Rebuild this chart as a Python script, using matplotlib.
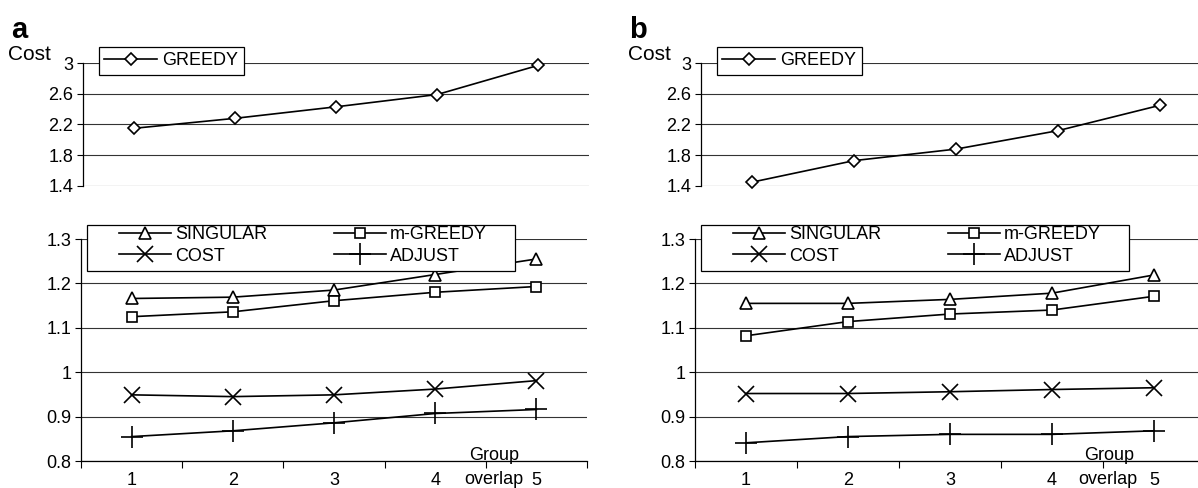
import numpy as np
import matplotlib
matplotlib.use('Agg')
import matplotlib.pyplot as plt
from matplotlib.patches import Rectangle

plt.rcParams['font.family'] = ['Liberation Sans', 'DejaVu Sans']

# group overlap categories
groups = [1, 2, 3, 4, 5]
group_labels = ['1', '2', '3', '4', '5']
top_ticks = [1.4, 1.8, 2.2, 2.6, 3.0]
top_tick_labels = ['1.4', '1.8', '2.2', '2.6', '3']
bot_ticks = [0.8, 0.9, 1.0, 1.1, 1.2, 1.3]
bot_tick_labels = ['0.8', '0.9', '1', '1.1', '1.2', '1.3']

# panel a
greedy_a = [2.15, 2.28, 2.43, 2.59, 2.97]
singular_a = [1.166, 1.169, 1.185, 1.220, 1.255]
mgreedy_a = [1.125, 1.136, 1.161, 1.180, 1.193]
cost_a = [0.949, 0.945, 0.949, 0.962, 0.981]
adjust_a = [0.855, 0.868, 0.886, 0.907, 0.916]

# panel b
greedy_b = [1.45, 1.73, 1.88, 2.12, 2.45]
singular_b = [1.155, 1.155, 1.164, 1.178, 1.219]
mgreedy_b = [1.082, 1.114, 1.131, 1.140, 1.171]
cost_b = [0.952, 0.952, 0.956, 0.961, 0.965]
adjust_b = [0.841, 0.855, 0.860, 0.860, 0.868]

W, H = 1198, 488
fig = plt.figure(figsize=(W / 100, H / 100), dpi=100)


def fbox(x0, x1, ytop, ybot):
    return [x0 / W, 1 - ybot / H, (x1 - x0) / W, (ybot - ytop) / H]


def style(ax, ticks, labels):
    ax.set_xlim(0.5, 5.5)
    for s in ['top', 'right']:
        ax.spines[s].set_visible(False)
    ax.spines['left'].set_linewidth(0.9)
    ax.spines['bottom'].set_linewidth(0.9)
    ax.set_yticks(ticks)
    ax.set_yticklabels(labels)
    ax.yaxis.grid(True, color='#333333', lw=0.8)
    ax.set_axisbelow(True)
    ax.tick_params(axis='y', direction='out', length=4, width=0.8, pad=3,
                   labelsize=13)


kw = dict(color='k', lw=1.2, mfc='white', mec='k', mew=1.2, clip_on=False,
          zorder=3)


def panel(xb0, xt0, cw, greedy, singular, mgreedy, cost, adjust):
    ax_t = fig.add_axes(fbox(xt0, xt0 + 5 * cw, 63, 186))
    ax_b = fig.add_axes(fbox(xb0, xb0 + 5 * cw, 239, 461))
    style(ax_t, top_ticks, top_tick_labels)
    style(ax_b, bot_ticks, bot_tick_labels)
    ax_t.set_ylim(1.4, 3.0)
    ax_b.set_ylim(0.8, 1.3)
    ax_t.spines['bottom'].set_visible(False)
    ax_t.set_xticks([])

    ax_b.set_xticks(groups)
    ax_b.set_xticklabels(group_labels)
    ax_b.set_xticks(np.arange(0.5, len(groups) + 1, 1), minor=True)
    ax_b.tick_params(axis='x', which='major', length=0, pad=8, labelsize=13)
    ax_b.tick_params(axis='x', which='minor', direction='out', length=5,
                     width=0.8)

    lg, = ax_t.plot(groups, greedy, marker='D', ms=6, **kw)
    ls, = ax_b.plot(groups, singular, marker='^', ms=8, **kw)
    lm, = ax_b.plot(groups, mgreedy, marker='s', ms=6.5, **kw)
    lc, = ax_b.plot(groups, cost, marker='x', ms=11, **kw)
    la, = ax_b.plot(groups, adjust, marker='+', ms=16, **kw)

    # GREEDY legend
    leg = fig.legend([lg], ['GREEDY'], loc='upper left',
                     bbox_to_anchor=((xt0 + 16) / W, 1 - 47 / H),
                     frameon=True, fancybox=False, edgecolor='k',
                     framealpha=1, borderpad=0.3, handlelength=2.9,
                     handletextpad=0.3, fontsize=13, borderaxespad=0)
    leg.get_frame().set_linewidth(0.9)

    # lower legend: white box first, entries on top of it
    fig.add_artist(Rectangle(((xb0 + 6) / W, 1 - 271 / H), 428 / W, 46 / H,
                             transform=fig.transFigure, fc='white', ec='k',
                             lw=0.9, zorder=4))
    fig.legend([ls, lc, lm, la], ['SINGULAR', 'COST', 'm-GREEDY', 'ADJUST'],
               ncol=2, loc='upper left',
               bbox_to_anchor=((xb0 + 38) / W, 1 - 226 / H),
               frameon=False, borderpad=0, borderaxespad=0,
               handlelength=2.9, handletextpad=0.2, labelspacing=0.25,
               columnspacing=3.7, fontsize=13)

    return ax_t, ax_b


panel(81, 83, 101.2, greedy_a, singular_a, mgreedy_a, cost_a, adjust_a)
panel(695, 701, 102, greedy_b, singular_b, mgreedy_b, cost_b, adjust_b)

# panel letters and axis titles
fig.text(11 / W, 1 - 38 / H, 'a', fontsize=21, fontweight='bold', va='baseline')
fig.text(629 / W, 1 - 38 / H, 'b', fontsize=21, fontweight='bold', va='baseline')
fig.text(8 / W, 1 - 54 / H, 'Cost', fontsize=15, va='center')
fig.text(628 / W, 1 - 54 / H, 'Cost', fontsize=15, va='center')

fig.text(494 / W, 1 - 456 / H, 'Group', fontsize=13, ha='center', va='center')
fig.text(494 / W, 1 - 479 / H, 'overlap', fontsize=13, ha='center', va='center')
fig.text(1109 / W, 1 - 456 / H, 'Group', fontsize=13, ha='center', va='center')
fig.text(1108 / W, 1 - 479 / H, 'overlap', fontsize=13, ha='center', va='center')

fig.savefig('out.png', dpi=100)
